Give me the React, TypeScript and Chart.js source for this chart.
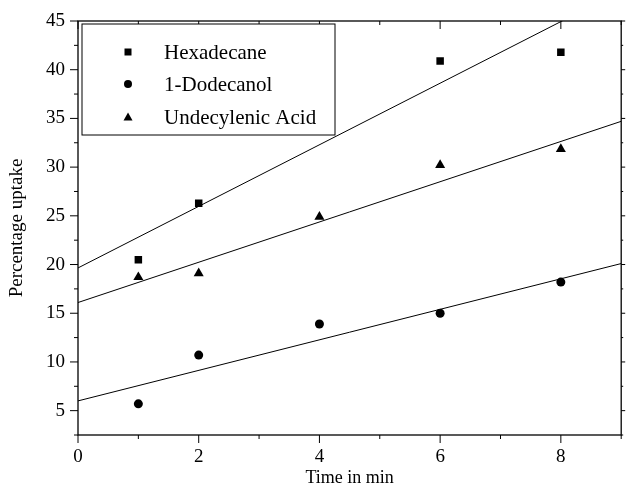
import React, { useEffect, useRef } from "react";
import { Chart, registerables } from "chart.js";

Chart.register(...registerables);

const SERIES_LABELS = ["Hexadecane", "1-Dodecanol", "Undecylenic Acid"];
const POINT_STYLES = ["rect", "circle", "triangle"];

const hexadecaneX = [1, 2, 6, 8];
const hexadecaneY = [20.5, 26.3, 40.9, 41.8];

const dodecanolX = [1, 2, 4, 6, 8];
const dodecanolY = [5.7, 10.7, 13.9, 15.0, 18.2];

const undecylenicX = [1, 2, 4, 6, 8];
const undecylenicY = [18.7, 19.1, 24.9, 30.2, 31.85];

const fitX = [0, 9];
const hexadecaneFit = [19.65, 48.1];
const dodecanolFit = [6.0, 20.1];
const undecylenicFit = [16.1, 34.7];

const X_MIN = 0;
const X_MAX = 9;
const Y_MIN = 2.5;
const Y_MAX = 45;

const FONT = '"Liberation Serif", "Times New Roman", serif';

const toPoints = (xs: number[], ys: number[]) => xs.map((x, i) => ({ x, y: ys[i] }));

const framePlugin = {
  id: "frameTicks",
  afterDraw(chart: any) {
    const { ctx, chartArea, scales } = chart;
    const { left, right, top, bottom } = chartArea;
    ctx.save();
    ctx.strokeStyle = "#000";
    ctx.lineWidth = 1.3;
    ctx.strokeRect(left, top, right - left, bottom - top);
    ctx.lineWidth = 1;
    ctx.beginPath();
    const xs = scales.x;
    xs.ticks.forEach((t: any) => {
      const major = t.value % 2 === 0;
      const px = xs.getPixelForValue(t.value);
      const len = major ? 8 : 4;
      ctx.moveTo(px, bottom);
      ctx.lineTo(px, bottom + len);
      ctx.moveTo(px, top);
      ctx.lineTo(px, top + len);
    });
    const ys = scales.y;
    ys.ticks.forEach((t: any) => {
      const major = Math.abs(t.value % 5) < 1e-6;
      const py = ys.getPixelForValue(t.value);
      const len = major ? 8 : 4;
      ctx.moveTo(left, py);
      ctx.lineTo(left - len, py);
      ctx.moveTo(right, py);
      ctx.lineTo(right + (major ? 4 : 2), py);
    });
    ctx.stroke();
    ctx.restore();
  },
};

const legendPlugin = {
  id: "boxLegend",
  afterDraw(chart: any) {
    const { ctx } = chart;
    const boxL = 82, boxT = 24, boxR = 335, boxB = 135;
    const markerX = 128;
    const textX = 164;
    const rowsY = [52, 84, 117];
    ctx.save();
    ctx.fillStyle = "#fff";
    ctx.fillRect(boxL, boxT, boxR - boxL, boxB - boxT);
    ctx.strokeStyle = "#000";
    ctx.lineWidth = 1;
    ctx.strokeRect(boxL, boxT, boxR - boxL, boxB - boxT);
    ctx.font = '21px "Liberation Serif"';
    ctx.textBaseline = "middle";
    ctx.textAlign = "left";
    ctx.fillStyle = "#000";
    for (let i = 0; i < SERIES_LABELS.length; i++) {
      const y = rowsY[i];
      const style = POINT_STYLES[i];
      ctx.beginPath();
      if (style === "rect") {
        ctx.rect(markerX - 3.5, y - 3.5, 7, 7);
      } else if (style === "circle") {
        ctx.arc(markerX, y, 4, 0, Math.PI * 2);
      } else {
        ctx.moveTo(markerX, y - 4.5);
        ctx.lineTo(markerX + 4.5, y + 3.5);
        ctx.lineTo(markerX - 4.5, y + 3.5);
        ctx.closePath();
      }
      ctx.fill();
      ctx.fillText(SERIES_LABELS[i], textX, y + 1);
    }
    ctx.restore();
  },
};

export default function App() {
  const canvasRef = useRef<HTMLCanvasElement | null>(null);

  useEffect(() => {
    if (!canvasRef.current) return;
    const scatterCommon = {
      type: "scatter" as const,
      showLine: false,
      backgroundColor: "#000",
      borderColor: "#000",
      borderWidth: 0,
    };
    const fitCommon = {
      type: "line" as const,
      borderColor: "#000",
      borderWidth: 1,
      pointRadius: 0,
      fill: false,
      tension: 0,
    };
    const chart = new Chart(canvasRef.current, {
      type: "scatter",
      data: {
        datasets: [
          { ...fitCommon, label: "fit1", data: toPoints(fitX, hexadecaneFit) },
          { ...fitCommon, label: "fit2", data: toPoints(fitX, dodecanolFit) },
          { ...fitCommon, label: "fit3", data: toPoints(fitX, undecylenicFit) },
          {
            ...scatterCommon,
            label: SERIES_LABELS[0],
            data: toPoints(hexadecaneX, hexadecaneY),
            pointStyle: "rect",
            pointRadius: 5.3,
          },
          {
            ...scatterCommon,
            label: SERIES_LABELS[1],
            data: toPoints(dodecanolX, dodecanolY),
            pointStyle: "circle",
            pointRadius: 4.5,
          },
          {
            ...scatterCommon,
            label: SERIES_LABELS[2],
            data: toPoints(undecylenicX, undecylenicY),
            pointStyle: "triangle",
            pointRadius: 5.8,
          },
        ] as any,
      },
      options: {
        animation: false,
        responsive: false,
        maintainAspectRatio: false,
        devicePixelRatio: 1,
        layout: { padding: { top: 21, right: 3, left: 0, bottom: 0 } },
        plugins: {
          legend: { display: false },
          tooltip: { enabled: false },
        },
        scales: {
          x: {
            type: "linear",
            min: X_MIN,
            max: X_MAX,
            grid: { display: false },
            border: { display: false },
            ticks: {
              stepSize: 1,
              autoSkip: false,
              maxRotation: 0,
              padding: 3,
              color: "#000",
              font: { family: FONT, size: 19 },
              callback: (v: any) => (Number(v) % 2 === 0 ? String(v) : ""),
            },
            title: {
              display: true,
              text: "Time in min",
              color: "#000",
              font: { family: FONT, size: 18 },
              padding: { top: 0, bottom: 6 },
            },
            afterFit: (s: any) => {
              s.height = 60;
            },
          },
          y: {
            type: "linear",
            min: Y_MIN,
            max: Y_MAX,
            grid: { display: false },
            border: { display: false },
            ticks: {
              stepSize: 2.5,
              autoSkip: false,
              padding: 5,
              color: "#000",
              font: { family: FONT, size: 19 },
              callback: (v: any) => (Math.abs(Number(v) % 5) < 1e-6 ? String(v) : ""),
            },
            title: {
              display: true,
              text: "Percentage uptake",
              color: "#000",
              font: { family: FONT, size: 19 },
              padding: { top: 6, bottom: 0 },
            },
            afterFit: (s: any) => {
              s.width = 78;
            },
          },
        },
      },
      plugins: [framePlugin, legendPlugin],
    });
    return () => chart.destroy();
  }, []);

  return (
    <div style={{ position: "fixed", left: 0, top: 0, width: 627, height: 495, background: "#fff" }}>
      <canvas ref={canvasRef} width={627} height={495} style={{ width: 627, height: 495, display: "block" }} />
    </div>
  );
}
